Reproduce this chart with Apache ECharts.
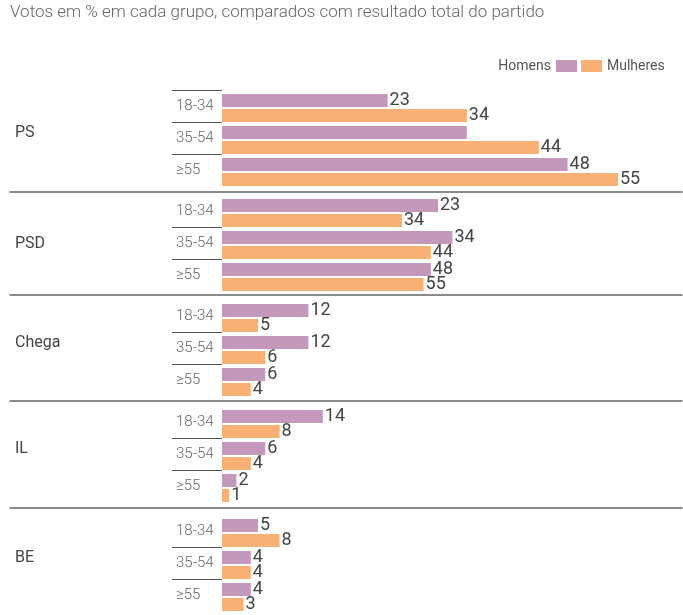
<!DOCTYPE html>
<html>
<head>
<meta charset="utf-8">
<script src="https://cdn.jsdelivr.net/npm/echarts@6/dist/echarts.min.js"></script>
<style>
  html, body { margin: 0; padding: 0; background: #fff; }
  #chart { width: 683px; height: 615px; }
</style>
</head>
<body>
<div id="chart"></div>
<script>
const parties = ['PS', 'PSD', 'Chega', 'IL', 'BE']
const ages = ['18-34', '35-54', '≥55']

// bar lengths, one row per party, in age order
const homens = [
  [23, 34, 48],
  [30, 32, 29],
  [12, 12, 6],
  [14, 6, 2],
  [5, 4, 4]
]
const mulheres = [
  [34, 44, 55],
  [25, 29, 28],
  [5, 6, 4],
  [8, 4, 1],
  [8, 4, 3]
]
// numbers printed next to the bars (the PSD ones repeat PS in the original)
const homensLabels = [
  ['23', '', '48'],
  ['23', '34', '48'],
  ['12', '12', '6'],
  ['14', '6', '2'],
  ['5', '4', '4']
]
const mulheresLabels = [
  ['34', '44', '55'],
  ['34', '44', '55'],
  ['5', '6', '4'],
  ['8', '4', '1'],
  ['8', '4', '3']
]

const PURPLE = '#c498ba'
const ORANGE = '#f8b074'

// layout of the small multiples
const groupTop = [92, 197, 302, 408, 517]
const sepY = [191.5, 294.5, 400.5, 508]
const nameShift = [-7, -1, -7, -7, -7]
const groupH = 96

const chart = echarts.init(document.getElementById('chart'))

const grid = []
const xAxis = []
const yAxis = []
const series = []

parties.forEach((party, i) => {
  // bars
  const g = grid.length
  grid.push({ left: 222, width: 432, top: groupTop[i], height: groupH })
  const xi = xAxis.length
  xAxis.push({
    gridIndex: g, type: 'value', min: 0, max: 60,
    axisLine: { show: false }, axisTick: { show: false },
    axisLabel: { show: false }, splitLine: { show: false }
  })
  const yi = yAxis.length
  yAxis.push({
    gridIndex: g, type: 'category', data: ages, inverse: true,
    axisLine: { show: false }, axisTick: { show: false },
    axisLabel: { show: false }, splitLine: { show: false }
  })

  const mkLabel = (labels) => ({
    show: true,
    position: 'right',
    distance: 2,
    fontSize: 18,
    color: '#444',
    formatter: (p) => labels[p.dataIndex]
  })
  series.push({
    name: 'Homens', type: 'bar', xAxisIndex: xi, yAxisIndex: yi,
    data: homens[i], barWidth: 13, barGap: '15%',
    itemStyle: { color: PURPLE },
    label: mkLabel(homensLabels[i])
  }, {
    name: 'Mulheres', type: 'bar', xAxisIndex: xi, yAxisIndex: yi,
    data: mulheres[i], barWidth: 13, barGap: '15%',
    itemStyle: { color: ORANGE },
    label: mkLabel(mulheresLabels[i])
  })

  // age labels + short rules between them
  const lg = grid.length
  grid.push({ left: 172, width: 50, top: groupTop[i] - 2, height: groupH })
  xAxis.push({
    gridIndex: lg, type: 'value', show: false
  })
  yAxis.push({
    gridIndex: lg, type: 'category', data: ages, inverse: true,
    axisLine: { show: false }, axisTick: { show: false },
    axisLabel: {
      align: 'left', margin: -4, fontSize: 15, fontWeight: 300, color: '#666',
      padding: [4, 0, 0, 0]
    },
    splitLine: {
      show: true, interval: 0,
      showMinLine: i === 0, showMaxLine: false,
      lineStyle: { color: '#555', width: 1 }
    }
  })

  // party name + full width separator above it
  const fg = grid.length
  const top = i > 0 ? sepY[i - 1] : 40
  const labelY = groupTop[i] + groupH / 2 + nameShift[i]
  grid.push({ left: 10, right: 1, top: top, height: 2 * (labelY - top) })
  xAxis.push({
    gridIndex: fg, type: 'value', position: 'top',
    axisLine: { show: i > 0, onZero: false, lineStyle: { color: '#666', width: 1.5 } },
    axisTick: { show: false }, axisLabel: { show: false }, splitLine: { show: false }
  })
  yAxis.push({
    gridIndex: fg, type: 'category', data: [party],
    axisLine: { show: false }, axisTick: { show: false },
    axisLabel: { align: 'left', margin: -5, fontSize: 16, color: '#444' },
    splitLine: { show: false }
  })
})

const legendBase = {
  top: 59,
  padding: 0,
  icon: 'rect',
  itemWidth: 21,
  itemHeight: 12,
  selectedMode: false,
  textStyle: { fontSize: 14, color: '#555' }
}

chart.setOption({
  animation: false,
  textStyle: { fontFamily: 'Roboto' },
  title: {
    text: 'Votos em % em cada grupo, comparados com resultado total do partido',
    left: 10,
    top: 4,
    padding: 0,
    textStyle: { fontSize: 17, fontWeight: 300, color: '#666' }
  },
  legend: [
    Object.assign({}, legendBase, { data: ['Homens'], right: 106, align: 'right' }),
    Object.assign({}, legendBase, { data: ['Mulheres'], left: 581, align: 'left' })
  ],
  grid: grid,
  xAxis: xAxis,
  yAxis: yAxis,
  series: series
})
</script>
</body>
</html>
